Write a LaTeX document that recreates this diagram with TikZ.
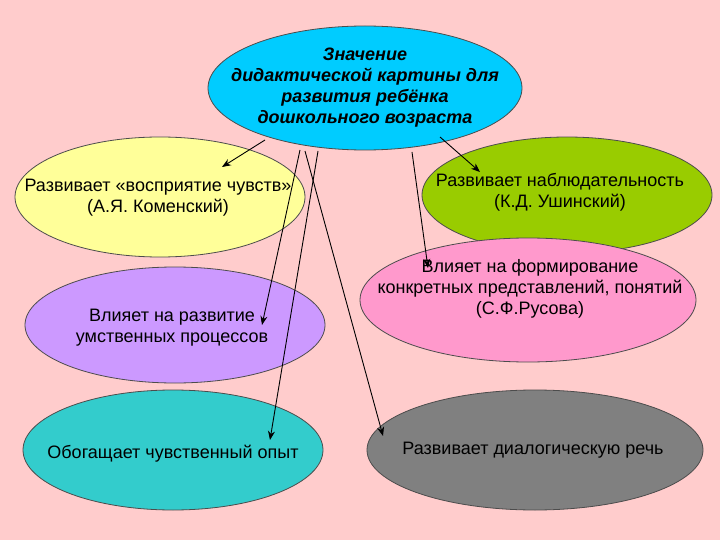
\documentclass[tikz,border=0pt]{standalone}
\usepackage{fontspec}
\setmainfont{Liberation Sans}
\usetikzlibrary{shapes.geometric,arrows.meta}
\definecolor{bg}{RGB}{255,204,204}
\definecolor{ccyan}{RGB}{0,204,255}
\definecolor{cyel}{RGB}{255,255,153}
\definecolor{cgreen}{RGB}{153,204,0}
\definecolor{clav}{RGB}{204,153,255}
\definecolor{cpink}{RGB}{255,153,204}
\definecolor{cteal}{RGB}{51,204,204}
\definecolor{cgrey}{RGB}{128,128,128}
\tikzset{
 ell/.style={ellipse,draw=black!70,line width=0.8pt,inner sep=0pt},
 txt/.style={align=center,font=\fontsize{18}{21}\selectfont},
 arr/.style={-{Stealth[length=9pt,width=7pt]},line width=0.9pt}
}
\begin{document}
\begin{tikzpicture}[x=1pt,y=-1pt]
\fill[bg] (0,0) rectangle (720,540);
\useasboundingbox (0,0) rectangle (720,540);
\node[ell,fill=ccyan,minimum width=314,minimum height=124] (top) at (365,88) {};
\node[txt,font=\fontsize{18}{21}\selectfont\bfseries\itshape] (ttop) at (365,88) {Значение\\дидактической картины для\\развития ребёнка\\дошкольного возраста};
\node[ell,fill=cyel,minimum width=290,minimum height=120] (l1) at (160,197) {};
\node[txt] (tl1) at (158,198) {Развивает «восприятие чувств»\\(А.Я. Коменский)};
\node[ell,fill=cgreen,minimum width=290,minimum height=116] (r1) at (567,195) {};
\node[txt] (tr1) at (560,192) {Развивает наблюдательность\\(К.Д. Ушинский)};
\node[ell,fill=clav,minimum width=300,minimum height=116] (l2) at (175,325) {};
\node[txt] (tl2) at (172,328) {Влияет на развитие\\умственных процессов};
\node[ell,fill=cpink,minimum width=336,minimum height=124] (r2) at (528,300) {};
\node[txt] (tr2) at (530,289) {Влияет на формирование\\конкретных представлений, понятий\\(С.Ф.Русова)};
\node[ell,fill=cteal,minimum width=300,minimum height=120] (l3) at (173,450) {};
\node[txt] (tl3) at (173,454) {Обогащает чувственный опыт};
\node[ell,fill=cgrey,minimum width=336,minimum height=120] (r3) at (535,450) {};
\node[txt] (tr3) at (533,450) {Развивает диалогическую речь};
\coordinate (a1) at (265,140); \coordinate (e1) at (222,167);
\coordinate (a2) at (440,137); \coordinate (e2) at (480,172);
\coordinate (a3) at (412,152); \coordinate (e3) at (428,268);
\coordinate (a4) at (300,150); \coordinate (e4) at (262,325);
\coordinate (a5) at (318,151); \coordinate (e5) at (270,440);
\coordinate (a6) at (305,151); \coordinate (e6) at (383,436);
\foreach \i in {1,...,6} \draw[arr] (a\i) -- (e\i);
\end{tikzpicture}
\end{document}
